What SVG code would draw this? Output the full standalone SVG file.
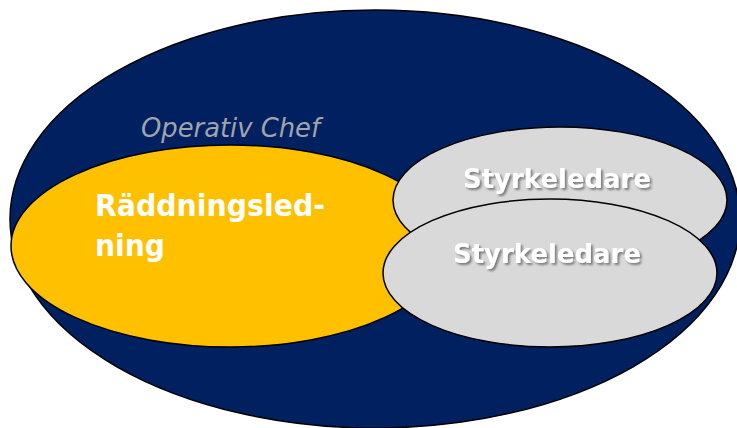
<svg xmlns="http://www.w3.org/2000/svg" width="737" height="428" viewBox="0 0 737 428">
<defs>
<style>
.outline{stroke:#000;stroke-width:1.5}
.lbl{font-family:"DejaVu Sans","Liberation Sans",sans-serif;font-weight:bold;fill:#fff}
.sh{filter:url(#shadow)}
</style>
<filter id="shadow" x="-10%" y="-30%" width="130%" height="170%">
<feDropShadow dx="2" dy="2" stdDeviation="1.2" flood-color="#555" flood-opacity="0.7"/>
</filter>
</defs>
<rect width="737" height="428" fill="#fff"/>
<g id="operativ-chef">
<ellipse class="outline" cx="375" cy="219" rx="365" ry="209" fill="#00205F"/>
<text x="141" y="137" font-family="DejaVu Sans,sans-serif" font-style="italic" font-size="26" fill="#A0A4AC" textLength="179" lengthAdjust="spacingAndGlyphs">Operativ Chef</text>
</g>
<g id="raddningsledning">
<ellipse class="outline" cx="230" cy="246" rx="219" ry="101" fill="#FFC000"/>
<text class="lbl" font-size="30"><tspan x="95" y="216" textLength="230" lengthAdjust="spacingAndGlyphs">Räddningsled-</tspan><tspan x="95" y="256" textLength="70" lengthAdjust="spacingAndGlyphs">ning</tspan></text>
</g>
<g id="styrkeledare-1">
<ellipse class="outline" cx="560" cy="200" rx="167" ry="73" fill="#D9D9D9"/>
<text class="lbl sh" x="463" y="188" font-size="27" textLength="188" lengthAdjust="spacingAndGlyphs">Styrkeledare</text>
</g>
<g id="styrkeledare-2">
<ellipse class="outline" cx="550" cy="273" rx="167" ry="74" fill="#D9D9D9"/>
<text class="lbl sh" x="453" y="263" font-size="27" textLength="188" lengthAdjust="spacingAndGlyphs">Styrkeledare</text>
</g>
<g id="connectors"/>
</svg>
